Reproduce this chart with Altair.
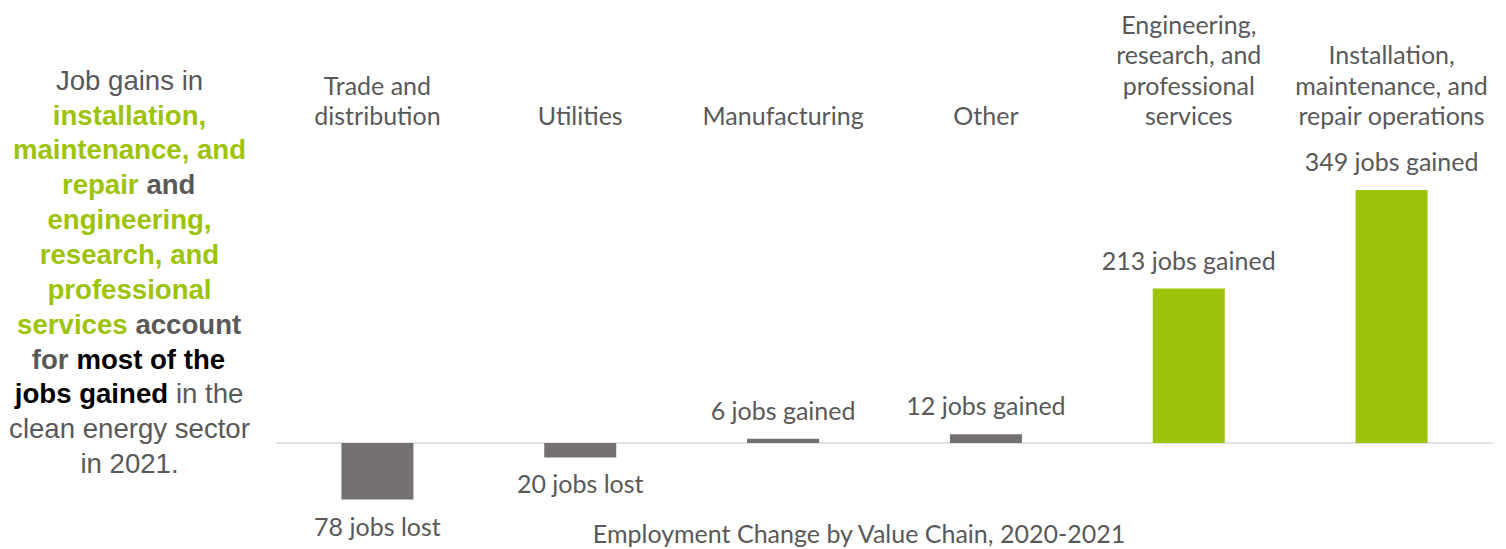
import altair as alt
import pandas as pd

categories = [
    "Trade and distribution",
    "Utilities",
    "Manufacturing",
    "Other",
    "Engineering, research, and professional services",
    "Installation, maintenance, and repair operations",
]
category_labels = [
    "Trade and\ndistribution",
    "Utilities",
    "Manufacturing",
    "Other",
    "Engineering,\nresearch, and\nprofessional\nservices",
    "Installation,\nmaintenance, and\nrepair operations",
]
values = [-78, -20, 6, 12, 213, 349]
value_labels = ["78 jobs lost", "20 jobs lost", "6 jobs gained", "12 jobs gained",
                "213 jobs gained", "349 jobs gained"]
highlight = ["no", "no", "no", "no", "yes", "yes"]

title_text = "Employment Change by Value Chain, 2020-2021"

intro_lines = [
    [("Job gains in", "reg")],
    [("installation,", "green")],
    [("maintenance, and", "green")],
    [("repair", "green"), ("and", "boldgray")],
    [("engineering,", "green")],
    [("research, and", "green")],
    [("professional", "green")],
    [("services", "green"), ("account", "boldgray")],
    [("for", "boldgray"), ("most of the", "black")],
    [("jobs gained", "black"), ("in the", "reg")],
    [("clean energy sector", "reg")],
    [("in 2021.", "reg")],
]
# split points (page px) for lines with two styled parts
intro_splits = {3: 142.5, 7: 131.5, 8: 72.5, 9: 172}

GREEN = "#9dc30a"
GRAY_BAR = "#767171"
GRAY_TXT = "#595959"
FONT = "Lato"
FS = 25
LH = 30.5

df = pd.DataFrame({
    "category": categories,
    "label": category_labels,
    "nlines": [lab.count("\n") + 1 for lab in category_labels],
    "value": values,
    "vlabel": value_labels,
    "hl": highlight,
})

W, H = 1490, 541
OFF = 8
x_scale = alt.Scale(domain=categories, range=[276 - OFF, 1493 - OFF],
                    paddingInner=0.645, paddingOuter=0.3225)
ppu = (443 - 190) / 349.0
zero_y = 443 - OFF
y_scale = alt.Scale(domain=[(zero_y - H) / ppu, zero_y / ppu], nice=False, zero=False)

base = alt.Chart(df)
x_enc = alt.X("category:N", scale=x_scale, axis=None, sort=categories)
y_enc = alt.Y("value:Q", scale=y_scale, axis=None)

bars = base.mark_bar().encode(
    x=x_enc,
    y=y_enc,
    y2=alt.datum(0),
    color=alt.Color("hl:N", scale=alt.Scale(domain=["no", "yes"], range=[GRAY_BAR, GREEN]), legend=None),
)

zero_line = alt.Chart(alt.Data(values=[{}])).mark_rule(color="#d9d9d9", strokeWidth=1.5).encode(
    x=alt.value(276 - OFF), x2=alt.value(1493 - OFF), y=alt.value(zero_y)
)

pos_labels = base.transform_filter("datum.value >= 0").mark_text(
    font=FONT, fontSize=FS, color=GRAY_TXT, baseline="middle", dy=-27
).encode(x=x_enc, y=y_enc, text="vlabel:N")

neg_labels = base.transform_filter("datum.value < 0").mark_text(
    font=FONT, fontSize=FS, color=GRAY_TXT, baseline="middle", dy=28
).encode(x=x_enc, y=y_enc, text="vlabel:N")

cat_layers = []
for n in sorted(set(df["nlines"])):
    cat_layers.append(
        base.transform_filter(f"datum.nlines == {n}").mark_text(
            font=FONT, fontSize=FS, color=GRAY_TXT, baseline="middle", lineBreak="\n", lineHeight=LH
        ).encode(x=x_enc, y=alt.value(117 - LH * (n - 1) - OFF), text="label:N")
    )

title = alt.Chart(alt.Data(values=[{}])).mark_text(
    font=FONT, fontSize=FS, color=GRAY_TXT, baseline="middle", text=title_text
).encode(x=alt.value(859 - OFF), y=alt.value(535 - OFF))

styles = {
    "reg": dict(color=GRAY_TXT, fontWeight="normal"),
    "green": dict(color=GREEN, fontWeight="bold"),
    "boldgray": dict(color=GRAY_TXT, fontWeight="bold"),
    "black": dict(color="#000000", fontWeight="bold"),
}
intro_layers = []
for i, segs in enumerate(intro_lines):
    yy = 81.7 + 34.85 * i - OFF
    if len(segs) == 1:
        parts = [(segs[0][0], segs[0][1], 129.5 - OFF, "center")]
    else:
        sp = intro_splits[i]
        parts = [(segs[0][0], segs[0][1], sp - 3.9 - OFF, "right"),
                 (segs[1][0], segs[1][1], sp + 3.9 - OFF, "left")]
    for t, s, xx, al in parts:
        intro_layers.append(
            alt.Chart(alt.Data(values=[{}])).mark_text(
                font="Liberation Sans", fontSize=27.6, baseline="middle", align=al, text=t, **styles[s]
            ).encode(x=alt.value(xx), y=alt.value(yy))
        )

chart = alt.layer(zero_line, bars, pos_labels, neg_labels, *cat_layers, title, *intro_layers).properties(
    width=W, height=H, padding=0, autosize="none"
).configure_view(stroke=None)

chart.save("out.html", embed_options={"renderer": "svg", "actions": False})
